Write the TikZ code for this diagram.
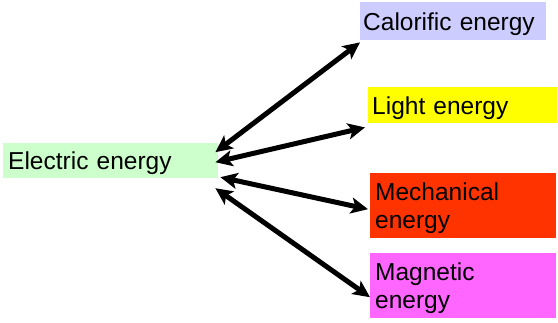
\documentclass[tikz,border=0pt]{standalone}
\usepackage{fontspec}
\setmainfont{Liberation Sans}
\usetikzlibrary{arrows.meta}

\newcommand{\energyfont}{\fontsize{24.5}{28.5}\selectfont}

\definecolor{elecgreen}{RGB}{204,255,204}
\definecolor{calorblue}{RGB}{204,204,255}
\definecolor{lightyellow}{RGB}{255,255,0}
\definecolor{mechred}{RGB}{255,51,0}
\definecolor{magnpink}{RGB}{255,102,255}

\begin{document}
\begin{tikzpicture}[
  x=1pt, y=-1pt,
  energybox/.style={
    rectangle,
    anchor=north west,
    inner xsep=4pt,
    inner ysep=0pt,
    align=left,
    font=\energyfont
  },
  oneline/.style={text height=18pt, text depth=0pt},
  twoline/.style={text height=18pt, text depth=29pt},
  link/.style={{Stealth[length=17pt,width=16pt,inset=4pt]}-{Stealth[length=17pt,width=16pt,inset=4pt]},
    line width=5pt, black}
]
  \useasboundingbox (0,0) rectangle (558,322);

  \node[energybox, oneline, fill=elecgreen, inner xsep=5pt, text width=205pt, minimum height=35pt]
    (elec) at (3,143) {Electric energy};

  \node[energybox, oneline, fill=calorblue, inner xsep=3pt, text width=180pt, minimum height=38pt]
    (calor) at (360,2) {Calorific energy};
  \node[energybox, oneline, fill=lightyellow, inner xsep=4pt, text width=181pt, minimum height=36pt]
    (light) at (368,87) {Light energy};
  \node[energybox, twoline, fill=mechred, inner xsep=5pt, text width=176pt, minimum height=65pt]
    (mech) at (370,173) {Mechanical\\energy};
  \node[energybox, twoline, fill=magnpink, inner xsep=5pt, text width=176pt, minimum height=65pt]
    (magn) at (370,253) {Magnetic\\energy};

  \draw[link] ([xshift=-3pt,yshift=8.5pt]elec.east) -- ([yshift=-2pt]calor.south west);
  \draw[link] ([xshift=-3pt,yshift=-1.5pt]elec.east) -- ([xshift=-3pt,yshift=-4pt]light.south west);
  \draw[link] ([xshift=2pt,yshift=-16.5pt]elec.east) -- ([xshift=-2pt,yshift=-3.5pt]mech.west);
  \draw[link] ([xshift=-3pt,yshift=-27.5pt]elec.east) -- ([yshift=-11.5pt]magn.west);
\end{tikzpicture}
\end{document}
